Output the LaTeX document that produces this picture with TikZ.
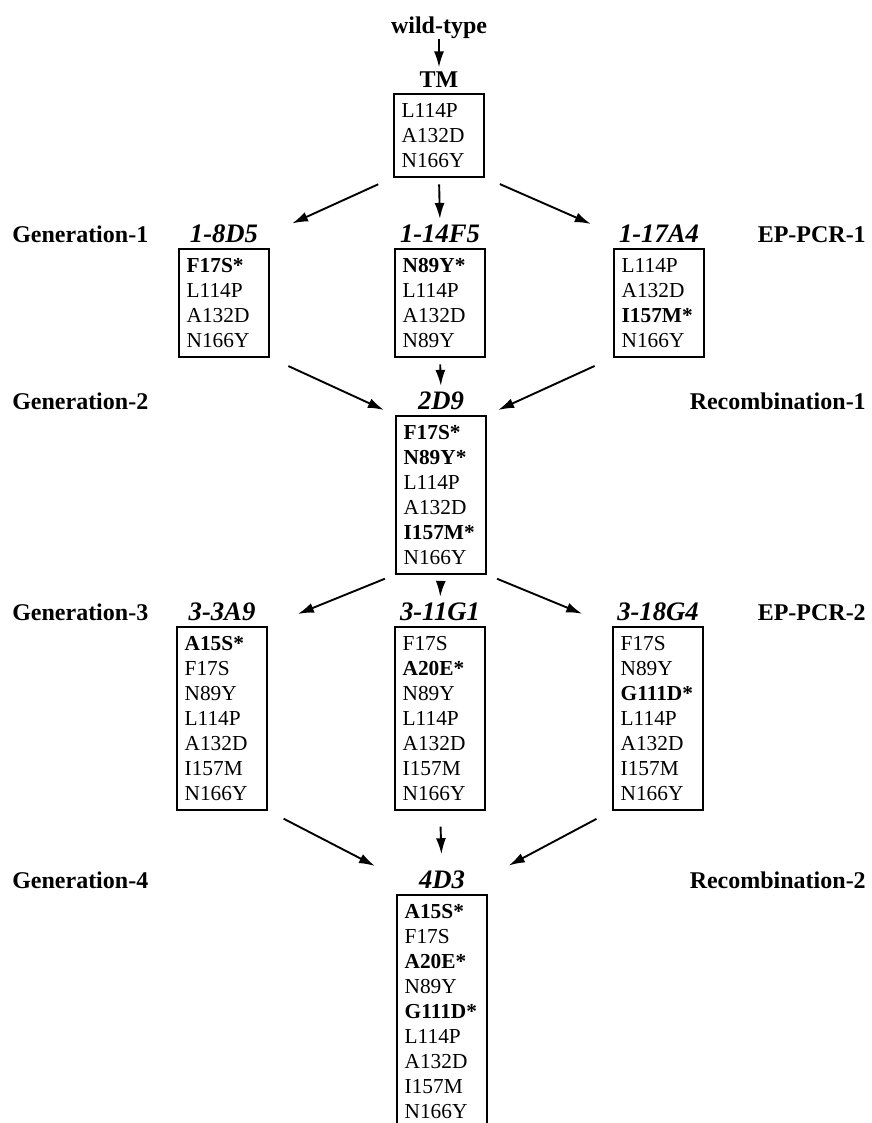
\documentclass[tikz,border=0pt]{standalone}
\usepackage{fontspec}
\setmainfont{Liberation Serif}
\usetikzlibrary{arrows.meta}
\usetikzlibrary{positioning}
\tikzset{
    mutbox/.style={draw=black, line width=.45mm, anchor=north, align=left,
        text width=56pt, inner xsep=6pt, inner ysep=7pt,
        font=\fontsize{16}{18.75}\selectfont},
    strain/.style={inner sep=0pt, font=\fontsize{20}{24}\selectfont\bfseries\itshape},
    rowlabel/.style={inner sep=0pt, font=\fontsize{18}{22}\selectfont\bfseries},
    evol/.style={draw=black, line width=.5mm, -{Latex[length=12pt,width=7.5pt]}},
    evolmid/.style={evol, shorten <=5pt, shorten >=4pt},
    evolsplit/.style={evol, shorten <=12pt, shorten >=18pt},
    evoljoin/.style={evol, shorten <=15pt, shorten >=9pt},
}

\begin{document}
\begin{tikzpicture}[x=0.75pt, y=-0.75pt]
	\useasboundingbox (0,0) rectangle (871,1123);
	\coordinate (lm) at (12,0);
	\coordinate (rm) at (866,0);
	% parent
	\node[rowlabel, anchor=base] (wt) at (439,34) {wild-type};
	\node[mutbox] (tm) at (439,93) {L114P\\A132D\\N166Y};
	\node[rowlabel, above=4pt of tm] (tmlab) {TM};
	% generation 1
	\node[mutbox] (g1a) at (224,248) {\textbf{F17S*}\\L114P\\A132D\\N166Y};
	\node[mutbox] (g1b) at (440,248) {\textbf{N89Y*}\\L114P\\A132D\\N89Y};
	\node[mutbox] (g1c) at (659,248) {L114P\\A132D\\\textbf{I157M*}\\N166Y};
	\node[strain, above=4pt of g1a] (g1alab) {1-8D5};
	\node[strain, above=4pt of g1b] (g1blab) {1-14F5};
	\node[strain, above=4pt of g1c] (g1clab) {1-17A4};
	% generation 2
	\node[mutbox] (g2) at (441,415) {\textbf{F17S*}\\\textbf{N89Y*}\\L114P\\A132D\\\textbf{I157M*}\\N166Y};
	\node[strain, above=4pt of g2] (g2lab) {2D9};
	% generation 3
	\node[mutbox] (g3a) at (222,626) {\textbf{A15S*}\\F17S\\N89Y\\L114P\\A132D\\I157M\\N166Y};
	\node[mutbox] (g3b) at (440,626) {F17S\\\textbf{A20E*}\\N89Y\\L114P\\A132D\\I157M\\N166Y};
	\node[mutbox] (g3c) at (658,626) {F17S\\N89Y\\\textbf{G111D*}\\L114P\\A132D\\I157M\\N166Y};
	\node[strain, above=4pt of g3a] (g3alab) {3-3A9};
	\node[strain, above=4pt of g3b] (g3blab) {3-11G1};
	\node[strain, above=4pt of g3c] (g3clab) {3-18G4};
	% generation 4
	\node[mutbox] (g4) at (442,894) {\textbf{A15S*}\\F17S\\\textbf{A20E*}\\N89Y\\\textbf{G111D*}\\L114P\\A132D\\I157M\\N166Y};
	\node[strain, above=4pt of g4] (g4lab) {4D3};
	% row labels
	\node[rowlabel, anchor=base west] (gen1) at (lm |- g1alab.base) {Generation-1};
	\node[rowlabel, anchor=base west] (gen2) at (lm |- g2lab.base) {Generation-2};
	\node[rowlabel, anchor=base west] (gen3) at (lm |- g3alab.base) {Generation-3};
	\node[rowlabel, anchor=base west] (gen4) at (lm |- g4lab.base) {Generation-4};
	\node[rowlabel, anchor=base east] (ep1) at (rm |- g1clab.base) {EP-PCR-1};
	\node[rowlabel, anchor=base east] (rec1) at (rm |- g2lab.base) {Recombination-1};
	\node[rowlabel, anchor=base east] (ep2) at (rm |- g3clab.base) {EP-PCR-2};
	\node[rowlabel, anchor=base east] (rec2) at (rm |- g4lab.base) {Recombination-2};
	% arrows
	\draw[evol, shorten >=3pt] (wt.south) -- (tmlab.north);
	\draw[evolsplit] (tm.south west) -- (g1a.east |- g1alab.east);
	\draw[evolmid] (tm.south) -- (g1blab.north);
	\draw[evolsplit] (tm.south east) -- (g1c.west |- g1clab.west);
	\draw[evoljoin] (g1a.south east) -- (g2.north west);
	\draw[evolmid] (g1b.south) -- (g2lab.north);
	\draw[evoljoin] (g1c.south west) -- (g2.north east);
	\draw[evol, shorten <=8pt, shorten >=24pt] (g2.south west) -- (g3a.north east);
	\draw[evolmid] (g2.south) -- (g3blab.north);
	\draw[evol, shorten <=8pt, shorten >=24pt] (g2.south east) -- (g3c.north west);
	\draw[evol, shorten <=13pt, shorten >=37pt] (g3a.south east) -- (g4lab.south west);
	\draw[evol, shorten <=12pt, shorten >=12pt] (g3b.south) -- (g4lab.north);
	\draw[evol, shorten <=13pt, shorten >=37pt] (g3c.south west) -- (g4lab.south east);
\end{tikzpicture}
\end{document}
